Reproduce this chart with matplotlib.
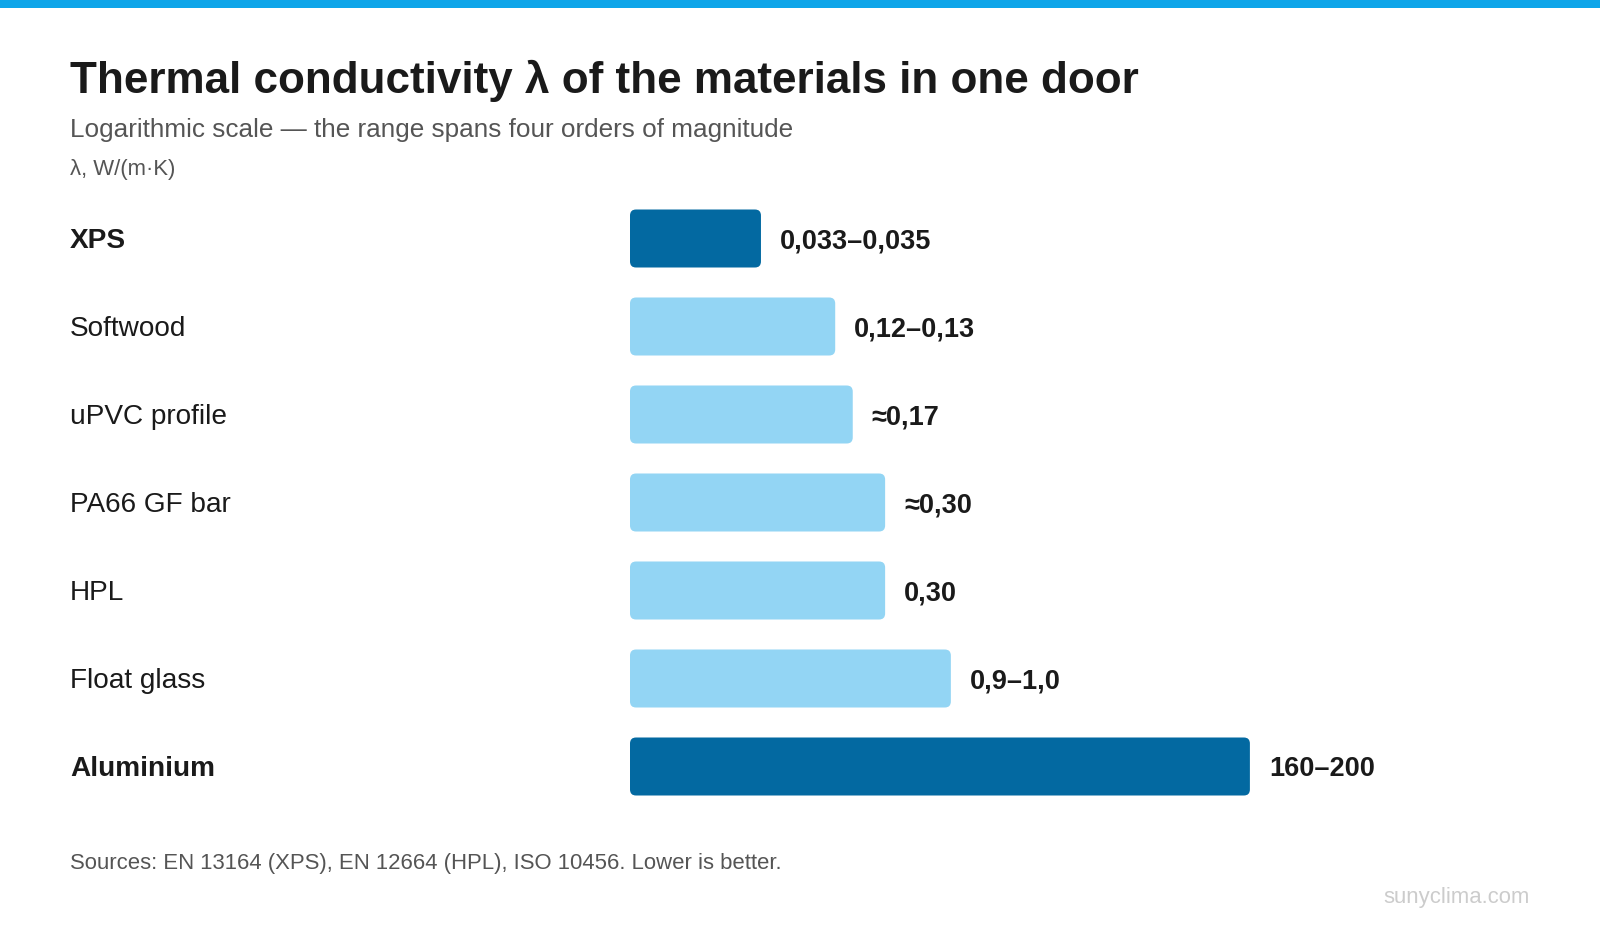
import matplotlib
matplotlib.use("Agg")
import matplotlib.pyplot as plt
from matplotlib.patches import FancyBboxPatch, Rectangle
from matplotlib.transforms import IdentityTransform
import numpy as np

# ---------------- data ----------------
materials = ["XPS", "Softwood", "uPVC profile", "PA66 GF bar", "HPL", "Float glass", "Aluminium"]
lambda_values = [0.034, 0.125, 0.17, 0.30, 0.30, 0.95, 180.0]   # W/(m·K), bar length (log scale)
value_labels = ["0,033–0,035", "0,12–0,13", "≈0,17", "≈0,30", "0,30", "0,9–1,0", "160–200"]
highlight = [True, False, False, False, False, False, True]

title = "Thermal conductivity λ of the materials in one door"
subtitle = "Logarithmic scale — the range spans four orders of magnitude"
unit_label = "λ, W/(m·K)"
source_note = "Sources: EN 13164 (XPS), EN 12664 (HPL), ISO 10456. Lower is better."
watermark = "sunyclima.com"

# ---------------- style ----------------
W, H, DPI = 1600, 940, 100
FONT = ["Liberation Sans", "DejaVu Sans"]
plt.rcParams["font.family"] = FONT
DARK = "#0369a1"
LIGHT = "#93d5f4"
TEXT = "#1a1a1a"
MUTED = "#555555"
ACCENT = "#0ea5e9"

fig = plt.figure(figsize=(W / DPI, H / DPI), dpi=DPI)
fig.patch.set_facecolor("white")

# top accent stripe
fig.add_artist(Rectangle((0, 1 - 8 / H), 1, 8 / H, transform=fig.transFigure,
                         facecolor=ACCENT, edgecolor="none"))

# titles
fig.text(70 / W, 1 - 92.5 / H, title, fontsize=31.7, fontweight="bold", color=TEXT,
         ha="left", va="baseline")
fig.text(70 / W, 1 - 137 / H, subtitle, fontsize=18.8, color=MUTED, ha="left", va="baseline")
fig.text(70 / W, 1 - 175.5 / H, unit_label, fontsize=15.9, color=MUTED, ha="left", va="baseline")
fig.text(70 / W, 1 - 869 / H, source_note, fontsize=15.9, color=MUTED, ha="left", va="baseline")
fig.text(1530 / W, 1 - 903 / H, watermark, fontsize=15.9, color="#cccccc", ha="right", va="baseline")

# axes: rows 88 px apart, first row centred at y=238.5 px
row_px = 88
n = len(materials)
ax_left_px, ax_right_px = 630, 1530
ax_top_px = 238.5 - row_px / 2
ax_h_px = row_px * n
ax = fig.add_axes([ax_left_px / W, 1 - (ax_top_px + ax_h_px) / H,
                   (ax_right_px - ax_left_px) / W, ax_h_px / H])
ax.set_xscale("log")
x_min = 0.00342
px_per_decade = 131.3
x_max = x_min * 10 ** ((ax_right_px - ax_left_px) / px_per_decade)
ax.set_xlim(x_min, x_max)
ax.set_ylim(n - 0.5, -0.5)
ax.axis("off")

y = np.arange(n)
widths = [v - x_min for v in lambda_values]
colors = [DARK if h else LIGHT for h in highlight]
bars = ax.barh(y, widths, left=x_min, height=58 / row_px, color=colors)

# replace square bars by rounded ones at the same display extent
for bar, c in zip(bars, colors):
    bb = bar.get_window_extent()
    bar.set_visible(False)
    fig.add_artist(FancyBboxPatch((bb.x0, bb.y0), bb.width, bb.height,
                                  boxstyle="round,pad=0,rounding_size=6",
                                  transform=IdentityTransform(),
                                  facecolor=c, edgecolor="none"))

for i, (name, v, lab, hl) in enumerate(zip(materials, lambda_values, value_labels, highlight)):
    ax.annotate(name, xy=(70, i), xycoords=("figure pixels", "data"),
                xytext=(0, -10), textcoords="offset pixels",
                ha="left", va="baseline", fontsize=20.2,
                fontweight="bold" if hl else "normal", color=TEXT, annotation_clip=False)
    ax.annotate(lab, xy=(v, i), xycoords="data",
                xytext=(19, -10), textcoords="offset pixels",
                ha="left", va="baseline", fontsize=19.5, fontweight="bold",
                color=TEXT, annotation_clip=False)

fig.savefig("out.png", dpi=DPI, facecolor="white")
